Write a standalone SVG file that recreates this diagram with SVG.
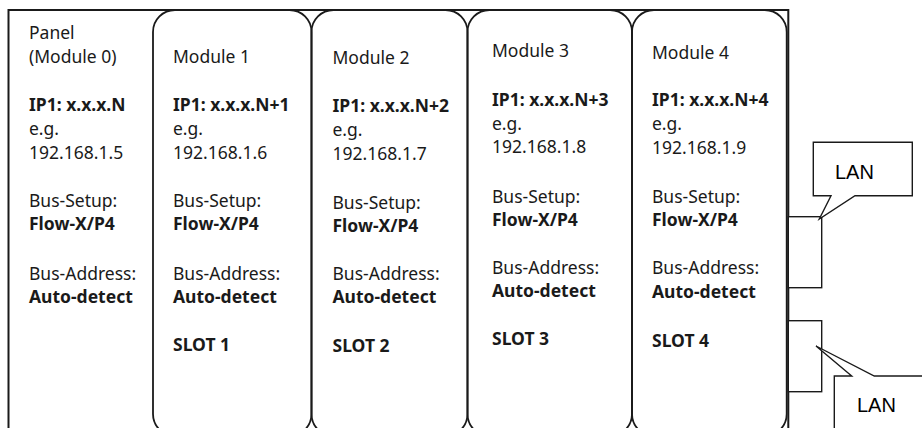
<svg xmlns="http://www.w3.org/2000/svg" width="922" height="428" viewBox="0 0 922 428">
<style>
.frame{fill:none;stroke:#1a1a1a;stroke-width:2}
.mod{fill:none;stroke:#1a1a1a;stroke-width:1.8}
.port{fill:#fff;stroke:#1a1a1a;stroke-width:1.4}
.call{fill:#fff;stroke:#1a1a1a;stroke-width:1.4}
text{font-family:"Noto Sans","Open Sans","DejaVu Sans",sans-serif;font-size:17.5px;fill:#1a1a1a}
.b{font-weight:bold}
.lan{font-family:"Liberation Sans",Arial,sans-serif;font-size:20px;fill:#000}
</style>
<rect width="922" height="428" fill="#fff"/>
<g id="panel">
<path class="frame" d="M8.5,440 V10 H788.3 V440"/>
<text x="29" y="38.5">Panel</text>
<text x="29" y="62.5">(Module 0)</text>
<text x="29" y="111" class="b">IP1: x.x.x.N</text>
<text x="29" y="134.5">e.g.</text>
<text x="29" y="158.5">192.168.1.5</text>
<text x="29" y="206.5">Bus-Setup:</text>
<text x="29" y="230" class="b">Flow-X/P4</text>
<text x="29" y="279.5">Bus-Address:</text>
<text x="29" y="302.5" class="b">Auto-detect</text>
</g>
<g id="module1">
<rect class="mod" x="153" y="10" width="158.5" height="426" rx="22" ry="22"/>
<text x="173" y="62.5">Module 1</text>
<text x="173" y="111" class="b">IP1: x.x.x.N+1</text>
<text x="173" y="134.5">e.g.</text>
<text x="173" y="158.5">192.168.1.6</text>
<text x="173" y="206.5">Bus-Setup:</text>
<text x="173" y="230" class="b">Flow-X/P4</text>
<text x="173" y="279.5">Bus-Address:</text>
<text x="173" y="302.5" class="b">Auto-detect</text>
<text x="173" y="350.5" class="b">SLOT 1</text>
</g>
<g id="module2">
<rect class="mod" x="311.5" y="10" width="156" height="426" rx="22" ry="22"/>
<text x="332.5" y="64">Module 2</text>
<text x="332.5" y="112.3" class="b">IP1: x.x.x.N+2</text>
<text x="332.5" y="136.2">e.g.</text>
<text x="332.5" y="160">192.168.1.7</text>
<text x="332.5" y="209">Bus-Setup:</text>
<text x="332.5" y="231.7" class="b">Flow-X/P4</text>
<text x="332.5" y="280">Bus-Address:</text>
<text x="332.5" y="303.3" class="b">Auto-detect</text>
<text x="332.5" y="351.7" class="b">SLOT 2</text>
</g>
<g id="module3">
<rect class="mod" x="467.5" y="10" width="164.5" height="426" rx="22" ry="22"/>
<text x="492" y="57.3">Module 3</text>
<text x="492" y="106" class="b">IP1: x.x.x.N+3</text>
<text x="492" y="129.5">e.g.</text>
<text x="492" y="153.3">192.168.1.8</text>
<text x="492" y="202.7">Bus-Setup:</text>
<text x="492" y="226" class="b">Flow-X/P4</text>
<text x="492" y="273.5">Bus-Address:</text>
<text x="492" y="297.3" class="b">Auto-detect</text>
<text x="492" y="345" class="b">SLOT 3</text>
</g>
<g id="module4">
<rect class="mod" x="632" y="10" width="154.7" height="426" rx="22" ry="22"/>
<text x="652" y="59">Module 4</text>
<text x="652" y="106" class="b">IP1: x.x.x.N+4</text>
<text x="652" y="130">e.g.</text>
<text x="652" y="154">192.168.1.9</text>
<text x="652" y="202.7">Bus-Setup:</text>
<text x="652" y="226" class="b">Flow-X/P4</text>
<text x="652" y="274.3">Bus-Address:</text>
<text x="652" y="297.7" class="b">Auto-detect</text>
<text x="652" y="346.7" class="b">SLOT 4</text>
</g>
<g id="port1">
<rect class="port" x="788.3" y="216.7" width="33.4" height="71"/>
</g>
<g id="port2">
<rect class="port" x="788.3" y="320.7" width="33.4" height="71"/>
</g>
<g id="connectors">
<g id="lan1">
<path class="call" d="M813.3,142.3 H912.3 V195.7 H855 L819.3,219 L831,195.7 H813.3 Z"/>
<text class="lan" x="835" y="179">LAN</text>
</g>
<g id="lan2">
<path class="call" d="M834.3,440 V376 H851.7 L816,346 L874.3,376 H935 V440 Z"/>
<text class="lan" x="857" y="412.3">LAN</text>
</g>
</g>
</svg>
